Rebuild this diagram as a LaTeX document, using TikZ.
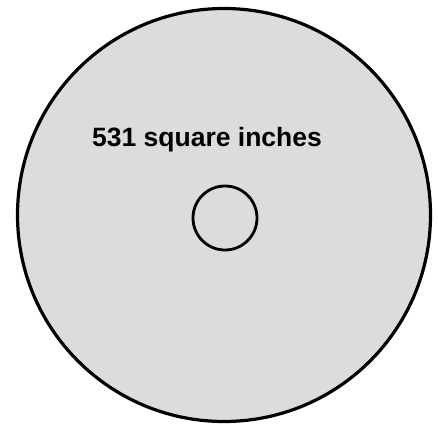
\documentclass[tikz,border=0pt]{standalone}
\usepackage{fontspec}
\setmainfont{Liberation Sans}
\definecolor{discgray}{RGB}{220,220,220}
\begin{document}
\begin{tikzpicture}[x=1pt,y=1pt,
  disc/.style={draw=black,fill=discgray,line width=3.2pt},
  hole/.style={draw=black,line width=2.8pt},
  lbl/.style={font=\fontsize{26.5}{30}\selectfont\bfseries,anchor=base,inner sep=0pt}]
\useasboundingbox (0,0) rectangle (438,424);
\fill[white] (0,0) rectangle (438,424);
\draw[disc] (224,209) circle (206.5);
\draw[hole] (225,206) circle (32);
\node[lbl] (label) at (207,278) {531 square inches};
\end{tikzpicture}
\end{document}
